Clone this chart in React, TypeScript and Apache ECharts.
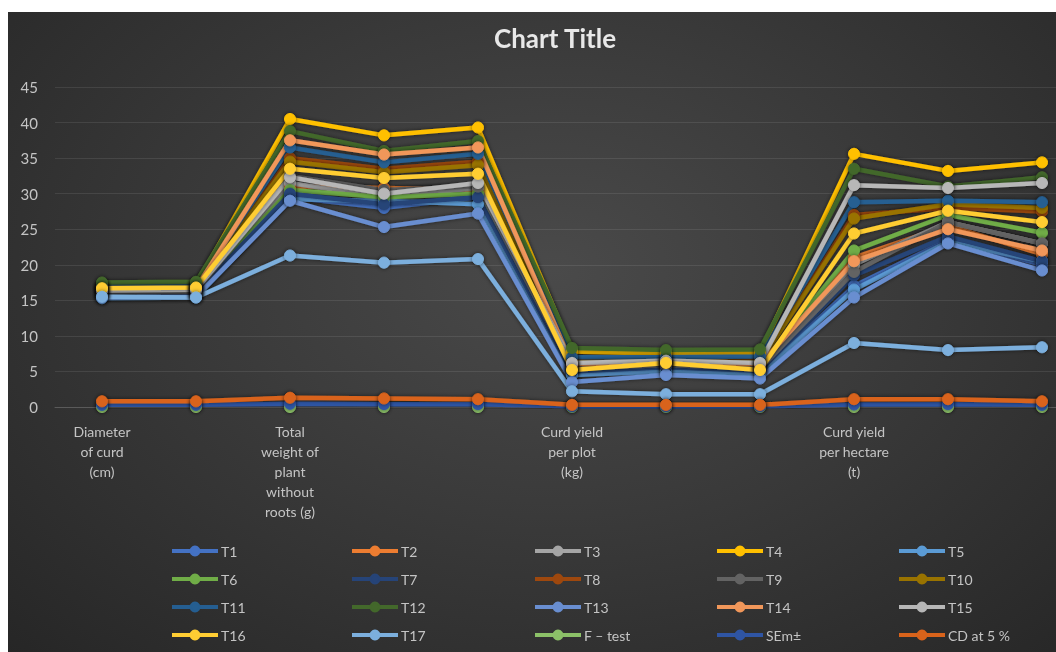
import React, { useEffect, useRef } from "react";
import * as echarts from "echarts";

const categoryLabels = [
  "Diameter\nof curd\n(cm)", "", "Total\nweight of\nplant\nwithout\nroots (g)", "", "",
  "Curd yield\nper plot\n(kg)", "", "", "Curd yield\nper hectare\n(t)", "", "",
];
const categories = categoryLabels.map((_, i) => "c" + i);
const yTicks = [0, 45, 5];

const T1 = [15.5, 15.6, 29.5, 28, 29.5, 4.8, 5.3, 4.9, 17, 23.5, 20];
const T2 = [16.2, 16.3, 31, 30.8, 30.5, 5.2, 5.8, 5.3, 21, 25.5, 21.5];
const T3 = [16.0, 16.1, 31.5, 29.5, 30.8, 5.5, 6.0, 5.5, 20, 26, 23];
const T4 = [17.0, 17.1, 40.5, 38.2, 39.3, 7.8, 7.5, 7.6, 35.6, 33.2, 34.4];
const T5 = [15.3, 15.4, 29.2, 29, 28.5, 4.5, 5.0, 4.6, 16.5, 23.2, 20.5];
const T6 = [16.5, 16.4, 30.5, 29.5, 30, 5.6, 6.2, 5.8, 22, 27, 24.5];
const T7 = [15.8, 15.9, 30, 28.5, 29.5, 5.0, 5.6, 5.1, 18.5, 24, 20.5];
const T8 = [16.8, 16.9, 35, 33.5, 34.5, 6.5, 6.6, 6.5, 27, 28, 27.5];
const T9 = [16.1, 16.2, 32.5, 30.5, 31, 5.4, 5.9, 5.4, 19, 26, 23];
const T10 = [16.9, 17.0, 34.5, 33, 34, 6.3, 6.4, 6.3, 26.5, 28.5, 28];
const T11 = [17.0, 17.1, 36.5, 34.4, 35.6, 7.0, 7.0, 7.1, 28.8, 29, 28.8];
const T12 = [17.5, 17.6, 38.8, 36, 37.4, 8.3, 8.0, 8.1, 33.5, 31, 32.3];
const T13 = [15.4, 15.5, 29, 25.3, 27.2, 3.5, 4.5, 4.0, 15.4, 23, 19.2];
const T14 = [16.6, 16.7, 37.5, 35.5, 36.5, 6.0, 6.3, 6.0, 20.5, 25, 22];
const T15 = [16.4, 16.5, 32.3, 30, 31.5, 6.2, 6.5, 6.2, 31.2, 30.8, 31.5];
const T16 = [16.7, 16.8, 33.5, 32.2, 32.8, 5.2, 6.2, 5.2, 24.4, 27.6, 26];
const T17 = [15.5, 15.4, 21.3, 20.3, 20.8, 2.2, 1.8, 1.8, 9.0, 8.0, 8.4];
const Ftest = [0, 0, 0, 0, 0, 0, 0, 0, 0, 0, 0];
const SEm = [0.3, 0.3, 0.45, 0.4, 0.4, 0.1, 0.1, 0.1, 0.35, 0.4, 0.3];
const CD5 = [0.8, 0.8, 1.3, 1.2, 1.1, 0.3, 0.3, 0.3, 1.1, 1.1, 0.8];

const seriesNames = [
  "T1", "T2", "T3", "T4", "T5", "T6", "T7", "T8", "T9", "T10",
  "T11", "T12", "T13", "T14", "T15", "T16", "T17", "F \u2013 test", "SEm\u00b1", "CD at 5 %",
];
const seriesValues = [
  T1, T2, T3, T4, T5, T6, T7, T8, T9, T10, T11, T12, T13, T14, T15, T16, T17, Ftest, SEm, CD5,
];
const seriesColors = [
  "#4472C4", "#ED7D31", "#A5A5A5", "#FFC000", "#5B9BD5", "#70AD47",
  "#264478", "#9E480E", "#636363", "#997300", "#255E91", "#43682B",
  "#698ED0", "#F1975A", "#B7B7B7", "#FFCD33", "#7CAFDD", "#8CC168",
  "#2F55A4", "#D9631B",
];

const FONT = "Lato, 'Open Sans', sans-serif";

export default function App() {
  const ref = useRef<HTMLDivElement>(null);
  useEffect(() => {
    if (!ref.current) return;
    const chart = echarts.init(ref.current, undefined, { renderer: "svg" });
    const colX = [162, 342, 525, 707, 889];
    const rowY = [532, 560, 588, 616];
    const legends = seriesNames.map((name, i) => ({
      data: [name],
      left: colX[i % 5],
      top: rowY[Math.floor(i / 5)],
      padding: 0,
      itemWidth: 46,
      itemHeight: 11,
      itemGap: 0,
      lineStyle: { width: 4 },
      textStyle: { color: "#c4c4c4", fontSize: 14, fontFamily: FONT, padding: [0, 0, 0, -2] },
    }));
    chart.setOption({
      animation: false,
      backgroundColor: "transparent",
      color: seriesColors,
      graphic: [
        {
          type: "text",
          x: 547,
          y: 26,
          style: {
            text: "Chart Title",
            fill: "#e8e8e8",
            font: `bold 26px ${FONT}`,
            textAlign: "center",
            textVerticalAlign: "middle",
          },
        },
      ],
      legend: legends,
      grid: { left: 47, top: 75, width: 1034, height: 320, containLabel: false },
      xAxis: {
        type: "category",
        data: categories,
        boundaryGap: true,
        axisLine: { show: true, lineStyle: { color: "#5a5a5a", width: 1 } },
        axisTick: { show: false },
        axisLabel: {
          interval: 0,
          color: "#c4c4c4",
          fontSize: 14,
          lineHeight: 20,
          fontFamily: FONT,
          margin: 14,
          formatter: (_v: string, idx: number) => categoryLabels[idx],
        },
        splitLine: { show: false },
      },
      yAxis: {
        type: "value",
        min: yTicks[0],
        max: yTicks[1],
        interval: yTicks[2],
        axisLine: { show: false },
        axisTick: { show: false },
        axisLabel: { color: "#c4c4c4", fontSize: 15, fontFamily: FONT, margin: 17 },
        splitLine: { lineStyle: { color: "rgba(255,255,255,0.09)", width: 1 } },
      },
      series: seriesNames.map((name, i) => ({
        name,
        type: "line",
        data: seriesValues[i],
        symbol: "circle",
        symbolSize: 11,
        lineStyle: {
          width: 4.5,
          color: seriesColors[i],
          shadowBlur: 4,
          shadowColor: "rgba(0,0,0,0.55)",
        },
        itemStyle: {
          color: seriesColors[i],
          borderColor: seriesColors[i],
          borderWidth: 1,
          shadowBlur: 4,
          shadowColor: "rgba(0,0,0,0.6)",
        },
        emphasis: { disabled: true },
      })),
    });
    return () => chart.dispose();
  }, []);
  return (
    <div
      ref={ref}
      style={{
        position: "fixed",
        left: 8,
        top: 12,
        width: 1094,
        height: 645,
        background: "radial-gradient(ellipse at 50% 40%, #4a4a4a 0%, #3a3a3a 45%, #262626 100%)",
      }}
    />
  );
}
